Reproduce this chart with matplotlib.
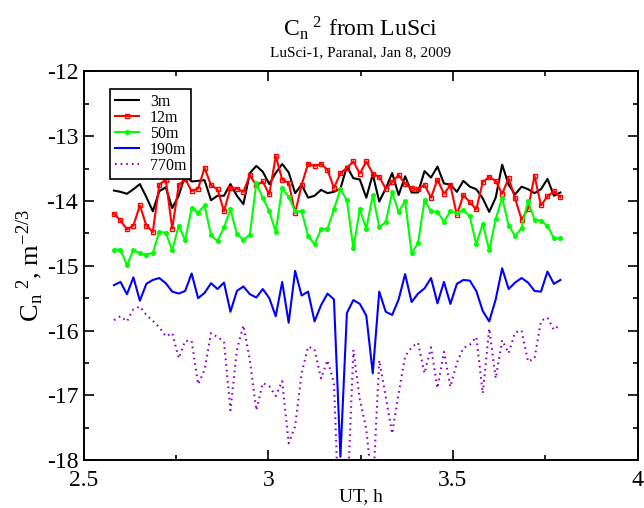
import numpy as np
import matplotlib
matplotlib.use('Agg')
import matplotlib.pyplot as plt
from matplotlib.ticker import MultipleLocator, FormatStrFormatter

plt.rcParams['font.family'] = ['Liberation Serif', 'DejaVu Serif']
plt.rcParams['mathtext.fontset'] = 'stix'
plt.rcParams['axes.unicode_minus'] = False

# UT sample times (h), one sample per ~1 min
ut = np.linspace(2.582, 3.791, 70)

cn2_3m = [-13.84, -13.86, -13.89, -13.82, -13.74, -13.94, -14.16, -13.85, -13.79, -14.11,
          -13.92, -13.60, -13.70, -13.69, -13.68, -13.99, -13.92, -13.92, -13.74, -13.92,
          -14.05, -13.57, -13.46, -13.55, -13.74, -13.57, -13.43, -13.56, -13.88, -13.75,
          -13.95, -13.92, -13.83, -13.88, -13.86, -13.81, -13.47, -13.65, -13.67, -13.95,
          -13.59, -14.01, -13.81, -13.57, -13.91, -13.62, -13.87, -13.87, -13.54, -13.64,
          -13.47, -13.73, -13.75, -13.86, -13.69, -13.78, -13.82, -13.96, -14.17, -13.95,
          -13.44, -13.75, -13.90, -13.78, -13.82, -13.88, -13.82, -13.66, -13.92, -13.87]

cn2_12m = [-14.20, -14.30, -14.44, -14.38, -14.07, -14.38, -14.48, -13.75, -13.67, -14.43,
           -13.76, -13.66, -13.85, -13.81, -13.49, -13.76, -13.82, -14.16, -13.80, -13.81,
           -13.86, -13.60, -13.76, -13.70, -13.90, -13.31, -13.67, -13.72, -14.19, -13.75,
           -13.43, -13.46, -13.43, -13.52, -13.80, -13.57, -13.49, -13.39, -13.58, -13.39,
           -13.58, -13.63, -13.81, -13.71, -13.60, -13.74, -13.80, -13.82, -13.75, -13.95,
           -13.67, -13.89, -13.76, -14.22, -13.91, -14.02, -14.13, -13.71, -13.63, -13.69,
           -13.89, -13.65, -13.96, -14.29, -14.12, -13.61, -14.07, -13.93, -13.85, -13.94]

cn2_50m = [-14.75, -14.75, -14.99, -14.76, -14.81, -14.83, -14.80, -14.48, -14.49, -14.76,
           -14.38, -14.61, -14.11, -14.18, -14.07, -14.53, -14.62, -14.41, -14.13, -14.51,
           -14.60, -14.52, -13.73, -13.95, -14.16, -14.48, -13.80, -13.94, -14.16, -14.16,
           -14.54, -14.67, -14.44, -14.43, -14.13, -13.82, -13.99, -14.73, -14.13, -14.43,
           -13.91, -14.40, -14.33, -13.87, -14.17, -14.00, -14.81, -14.65, -13.99, -14.16,
           -14.17, -14.32, -14.16, -14.19, -14.14, -14.24, -14.67, -14.35, -14.76, -14.28,
           -13.95, -14.38, -14.54, -14.42, -14.00, -14.29, -14.31, -14.38, -14.58, -14.58]

cn2_190m = [-15.30, -15.25, -15.44, -15.18, -15.54, -15.28, -15.22, -15.19, -15.27, -15.40,
            -15.43, -15.39, -15.12, -15.50, -15.42, -15.27, -15.36, -15.26, -15.71, -15.39,
            -15.32, -15.44, -15.49, -15.36, -15.50, -15.78, -15.25, -15.88, -15.08, -15.46,
            -15.40, -15.86, -15.61, -15.43, -15.52, -17.95, -15.73, -15.53, -15.59, -15.77,
            -16.66, -15.40, -15.71, -15.76, -15.52, -15.13, -15.56, -15.43, -15.35, -15.19,
            -15.58, -15.25, -15.59, -15.28, -15.22, -15.23, -15.39, -15.70, -15.86, -15.52,
            -15.04, -15.36, -15.26, -15.19, -15.26, -15.39, -15.40, -15.09, -15.28, -15.22]

cn2_770m = [-15.84, -15.78, -15.86, -15.67, -15.63, -15.76, -15.85, -15.95, -16.09, -16.04,
            -16.43, -16.16, -16.16, -16.83, -16.61, -16.04, -16.10, -16.17, -17.23, -16.30,
            -15.92, -16.46, -17.23, -16.81, -16.86, -17.01, -16.78, -17.74, -17.48, -16.66,
            -16.25, -16.29, -16.74, -16.46, -16.81, -19.50, -18.80, -16.30, -17.07, -17.52,
            -18.50, -16.46, -17.02, -17.59, -16.97, -16.40, -16.26, -16.19, -16.66, -16.26,
            -16.89, -16.33, -16.87, -16.50, -16.27, -16.22, -16.10, -16.97, -15.97, -16.74,
            -16.15, -16.35, -16.03, -16.00, -16.48, -16.43, -15.85, -15.80, -15.99, -15.90]

labels = ['3m', '12m', '50m', '190m', '770m']

fig = plt.figure(figsize=(6.44, 5.08), dpi=100)
ax = fig.add_axes([0.130, 0.0943, 0.860, 0.7653])

ax.plot(ut, cn2_3m, color='black', lw=1.5, label=labels[0])
ax.plot(ut, cn2_12m, color='red', lw=1.5, marker='s', ms=3.5, mfc='none', mec='red',
        mew=1.0, label=labels[1])
ax.plot(ut, cn2_50m, color='#00ff00', lw=1.5, marker='o', ms=2.6, mfc='#00ff00',
        mec='#00ff00', label=labels[2])
ax.plot(ut, cn2_190m, color='blue', lw=1.5, label=labels[3])
ax.plot(ut, cn2_770m, color='#9400d3', lw=1.5, linestyle=(0, (0.8, 1.9)),
        dash_capstyle='butt', label=labels[4])

ax.set_xlim(2.5, 4.0)
ax.set_ylim(-18, -12)
ax.xaxis.set_major_locator(MultipleLocator(0.5))
ax.xaxis.set_minor_locator(MultipleLocator(0.25))
ax.yaxis.set_major_locator(MultipleLocator(1))
ax.yaxis.set_minor_locator(MultipleLocator(0.5))
ax.xaxis.set_major_formatter(FormatStrFormatter('%g'))
ax.yaxis.set_major_formatter(FormatStrFormatter('%g'))
ax.tick_params(which='both', direction='in', top=True, right=True, labelsize=17,
               width=1.2)
ax.tick_params(which='major', length=7)
ax.tick_params(which='minor', length=3.5)
ax.tick_params(axis='x', which='major', pad=7)
ax.tick_params(axis='y', which='major', pad=4)
for s in ax.spines.values():
    s.set_linewidth(1.4)

ax.set_xlabel('UT, h', fontsize=14, labelpad=-2)
ax.set_ylabel(r'C$_\mathregular{n}$$^\mathregular{\ 2}$, m$^\mathregular{-2/3}$',
              fontsize=19, labelpad=1)

fig.text(0.56, 0.945, r'C$_\mathregular{n}$$^\mathregular{\ 2}$ from LuSci',
         ha='center', va='center', fontsize=17)
fig.text(0.56, 0.896, 'LuSci-1, Paranal, Jan 8, 2009', ha='center', va='center',
         fontsize=11)

leg = ax.legend(loc='upper left', bbox_to_anchor=(0.0475, 0.954), fontsize=11.5,
                frameon=True, fancybox=False, edgecolor='black', framealpha=1,
                handlelength=1.5, handletextpad=0.7, labelspacing=0.0,
                borderpad=0.3, borderaxespad=0)
leg.get_frame().set_linewidth(1.2)

fig.savefig('out.png', dpi=100)
